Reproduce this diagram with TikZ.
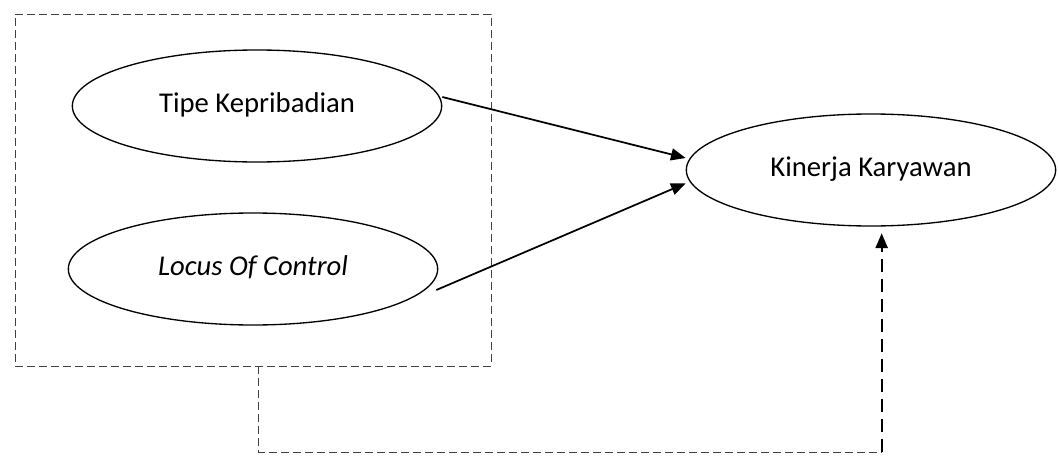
\documentclass[tikz,border=0pt]{standalone}
\usepackage{fontspec}
\setmainfont{Carlito}
\usetikzlibrary{shapes.geometric,arrows.meta}
\begin{document}
\begin{tikzpicture}[x=0.75pt,y=-0.75pt,
  var/.style={draw,ellipse,line width=1pt,inner sep=0pt,
    minimum width=277pt,minimum height=84pt,font=\fontsize{21.5}{24}\selectfont},
  path/.style={line width=1.3pt,-{Triangle[length=11pt,width=9pt]}},
  group/.style={draw=black!75,dash pattern=on 6pt off 3pt,line width=0.7pt},
  moder/.style={line width=1.6pt,dash pattern=on 10pt off 5pt,-{Triangle[length=11pt,width=9pt]}}]
  \useasboundingbox (0,0) rectangle (1058,457);
  % grouping frame around the independent variables
  \node[group,minimum width=357pt,minimum height=264pt,inner sep=0pt] (grp) at (253,190) {};
  % variables
  \node[var] (tk) at (257,106) {\raisebox{5pt}{Tipe Kepribadian}};
  \node[var] (loc) at (253,269) {\raisebox{5pt}{\itshape Locus Of Control}};
  \node[var] (kk) at (871,170) {\raisebox{5pt}{Kinerja Karyawan}};
  % direct effects
  \draw[path] (tk.east) ++(0,-9) coordinate (a1) (a1) -- ([yshift=9pt]kk.west);
  \draw[path] (loc.east) ++(-2,21) coordinate (a2) (a2) -- ([yshift=-10pt]kk.west);
  % joint effect
  \coordinate (g0) at ([xshift=4pt]grp.south);
  \coordinate (c1) at (g0 |- 0,452);
  \coordinate (c2) at ([xshift=8pt]kk.south |- c1);
  \draw[group] (g0) -- (c1) -- (c2);
  \draw[moder] (c2) -- ([xshift=8pt,yshift=-5pt]kk.south);
\end{tikzpicture}
\end{document}
